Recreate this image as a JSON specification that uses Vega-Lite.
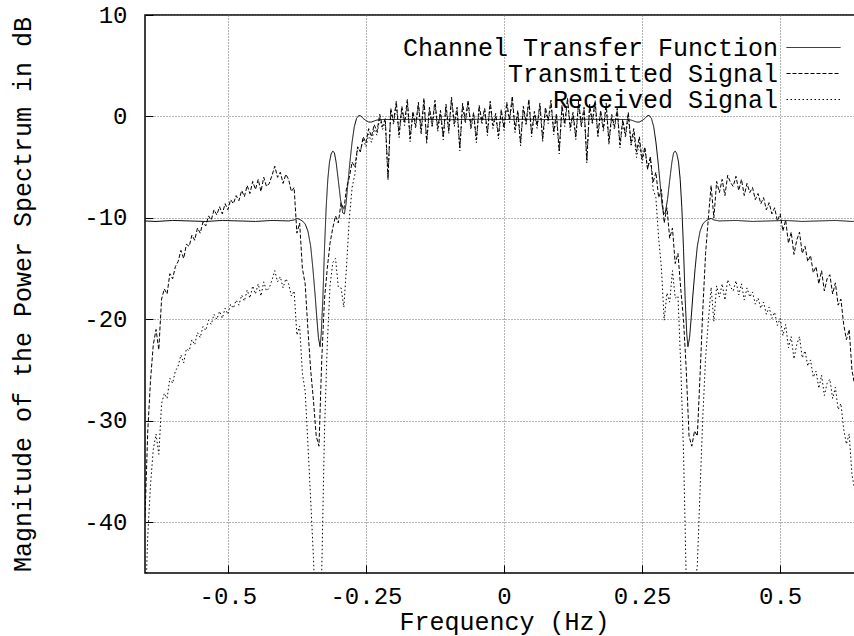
{
"$schema": "https://vega.github.io/schema/vega-lite/v6.json",
"width": 718, "height": 558,
"autosize": "none",
"padding": {"left": 145, "top": 15, "right": 0, "bottom": 63},
"background": "white",
"config": {
 "view": {"stroke": "black", "strokeWidth": 1.5},
 "axis": {"labelFont": "Liberation Mono", "titleFont": "Liberation Mono", "labelFontSize": 24, "titleFontSize": 25, "titleFontWeight": "normal", "labelColor": "black", "titleColor": "black", "gridColor": "#666", "gridDash": [1, 2], "gridOpacity": 1, "gridWidth": 1, "domain": false, "ticks": true, "tickSize": -8, "tickColor": "black", "tickWidth": 1}
},
"datasets": {
"chan": [
{"f":-0.65,"Channel Transfer Function":-10.3},{"f":-0.63,"Channel Transfer Function":-10.35},{"f":-0.6,"Channel Transfer Function":-10.25},{"f":-0.57,"Channel Transfer Function":-10.3},{"f":-0.54,"Channel Transfer Function":-10.35},{"f":-0.51,"Channel Transfer Function":-10.25},{"f":-0.48,"Channel Transfer Function":-10.3},{"f":-0.45,"Channel Transfer Function":-10.35},{"f":-0.42,"Channel Transfer Function":-10.25},{"f":-0.39,"Channel Transfer Function":-10.3},{"f":-0.38,"Channel Transfer Function":-10.2},{"f":-0.375,"Channel Transfer Function":-10.05},{"f":-0.37,"Channel Transfer Function":-10.15},{"f":-0.365,"Channel Transfer Function":-10.3},{"f":-0.36,"Channel Transfer Function":-10.6},{"f":-0.355,"Channel Transfer Function":-11.3},{"f":-0.35,"Channel Transfer Function":-12.8},{"f":-0.346,"Channel Transfer Function":-15.0},{"f":-0.342,"Channel Transfer Function":-17.6},{"f":-0.339,"Channel Transfer Function":-19.8},{"f":-0.336,"Channel Transfer Function":-21.8},{"f":-0.333,"Channel Transfer Function":-22.7},{"f":-0.331,"Channel Transfer Function":-21.5},{"f":-0.328,"Channel Transfer Function":-18},{"f":-0.325,"Channel Transfer Function":-13},{"f":-0.322,"Channel Transfer Function":-9},{"f":-0.319,"Channel Transfer Function":-6.2},{"f":-0.316,"Channel Transfer Function":-4.5},{"f":-0.313,"Channel Transfer Function":-3.7},{"f":-0.31,"Channel Transfer Function":-3.4},{"f":-0.307,"Channel Transfer Function":-3.6},{"f":-0.304,"Channel Transfer Function":-4.5},{"f":-0.3,"Channel Transfer Function":-6.3},{"f":-0.296,"Channel Transfer Function":-8.2},{"f":-0.292,"Channel Transfer Function":-9.5},{"f":-0.289,"Channel Transfer Function":-9.6},{"f":-0.286,"Channel Transfer Function":-8.6},{"f":-0.283,"Channel Transfer Function":-6.8},{"f":-0.279,"Channel Transfer Function":-4.5},{"f":-0.275,"Channel Transfer Function":-2.5},{"f":-0.271,"Channel Transfer Function":-1.0},{"f":-0.267,"Channel Transfer Function":-0.2},{"f":-0.263,"Channel Transfer Function":0.1},{"f":-0.259,"Channel Transfer Function":0.05},{"f":-0.255,"Channel Transfer Function":-0.2},{"f":-0.25,"Channel Transfer Function":-0.4},{"f":-0.245,"Channel Transfer Function":-0.55},{"f":-0.24,"Channel Transfer Function":-0.55},{"f":-0.235,"Channel Transfer Function":-0.45},{"f":-0.23,"Channel Transfer Function":-0.35},{"f":-0.22,"Channel Transfer Function":-0.3},{"f":-0.2,"Channel Transfer Function":-0.3},{"f":-0.15,"Channel Transfer Function":-0.28},{"f":-0.1,"Channel Transfer Function":-0.32},{"f":-0.05,"Channel Transfer Function":-0.28},{"f":0,"Channel Transfer Function":-0.3},
{"f":0.05,"Channel Transfer Function":-0.28},{"f":0.1,"Channel Transfer Function":-0.32},{"f":0.15,"Channel Transfer Function":-0.28},{"f":0.2,"Channel Transfer Function":-0.3},{"f":0.22,"Channel Transfer Function":-0.3},{"f":0.23,"Channel Transfer Function":-0.35},{"f":0.235,"Channel Transfer Function":-0.45},{"f":0.24,"Channel Transfer Function":-0.55},{"f":0.245,"Channel Transfer Function":-0.55},{"f":0.25,"Channel Transfer Function":-0.4},{"f":0.255,"Channel Transfer Function":-0.2},{"f":0.259,"Channel Transfer Function":0.05},{"f":0.263,"Channel Transfer Function":0.1},{"f":0.267,"Channel Transfer Function":-0.2},{"f":0.271,"Channel Transfer Function":-1.0},{"f":0.275,"Channel Transfer Function":-2.5},{"f":0.279,"Channel Transfer Function":-4.5},{"f":0.283,"Channel Transfer Function":-6.8},{"f":0.286,"Channel Transfer Function":-8.6},{"f":0.289,"Channel Transfer Function":-9.6},{"f":0.292,"Channel Transfer Function":-9.5},{"f":0.296,"Channel Transfer Function":-8.2},{"f":0.3,"Channel Transfer Function":-6.3},{"f":0.304,"Channel Transfer Function":-4.5},{"f":0.307,"Channel Transfer Function":-3.6},{"f":0.31,"Channel Transfer Function":-3.4},{"f":0.313,"Channel Transfer Function":-3.7},{"f":0.316,"Channel Transfer Function":-4.5},{"f":0.319,"Channel Transfer Function":-6.2},{"f":0.322,"Channel Transfer Function":-9},{"f":0.325,"Channel Transfer Function":-13},{"f":0.328,"Channel Transfer Function":-18},{"f":0.331,"Channel Transfer Function":-21.5},{"f":0.333,"Channel Transfer Function":-22.7},{"f":0.336,"Channel Transfer Function":-21.8},{"f":0.339,"Channel Transfer Function":-19.8},{"f":0.342,"Channel Transfer Function":-17.6},{"f":0.346,"Channel Transfer Function":-15.0},{"f":0.35,"Channel Transfer Function":-12.8},{"f":0.355,"Channel Transfer Function":-11.3},{"f":0.36,"Channel Transfer Function":-10.6},{"f":0.365,"Channel Transfer Function":-10.3},{"f":0.37,"Channel Transfer Function":-10.15},{"f":0.375,"Channel Transfer Function":-10.05},{"f":0.38,"Channel Transfer Function":-10.2},{"f":0.39,"Channel Transfer Function":-10.3},{"f":0.42,"Channel Transfer Function":-10.25},{"f":0.45,"Channel Transfer Function":-10.35},{"f":0.48,"Channel Transfer Function":-10.3},{"f":0.51,"Channel Transfer Function":-10.25},{"f":0.54,"Channel Transfer Function":-10.35},{"f":0.57,"Channel Transfer Function":-10.3},{"f":0.6,"Channel Transfer Function":-10.25},{"f":0.63,"Channel Transfer Function":-10.35},{"f":0.65,"Channel Transfer Function":-10.3}
],
"sig": [
{"f":-0.65,"Transmitted Signal":-39.5,"Received Signal":-49.8},
{"f":-0.645,"Transmitted Signal":-31,"Received Signal":-41.3},
{"f":-0.64,"Transmitted Signal":-26,"Received Signal":-36.3},
{"f":-0.635,"Transmitted Signal":-22.5,"Received Signal":-32.8},
{"f":-0.63,"Transmitted Signal":-21,"Received Signal":-31.3},
{"f":-0.625,"Transmitted Signal":-23,"Received Signal":-33.3},
{"f":-0.62,"Transmitted Signal":-18,"Received Signal":-28.3},
{"f":-0.615,"Transmitted Signal":-17,"Received Signal":-27.3},
{"f":-0.61,"Transmitted Signal":-17.5,"Received Signal":-27.8},
{"f":-0.605,"Transmitted Signal":-15.5,"Received Signal":-25.8},
{"f":-0.6,"Transmitted Signal":-16,"Received Signal":-26.3},
{"f":-0.595,"Transmitted Signal":-14.8,"Received Signal":-25.1},
{"f":-0.59,"Transmitted Signal":-14.3,"Received Signal":-24.6},
{"f":-0.585,"Transmitted Signal":-13.2,"Received Signal":-23.5},
{"f":-0.58,"Transmitted Signal":-14,"Received Signal":-24.3},
{"f":-0.575,"Transmitted Signal":-12.6,"Received Signal":-22.9},
{"f":-0.57,"Transmitted Signal":-12.8,"Received Signal":-23.1},
{"f":-0.565,"Transmitted Signal":-11.7,"Received Signal":-22.0},
{"f":-0.56,"Transmitted Signal":-12.2,"Received Signal":-22.5},
{"f":-0.555,"Transmitted Signal":-11.0,"Received Signal":-21.3},
{"f":-0.55,"Transmitted Signal":-11.5,"Received Signal":-21.8},
{"f":-0.545,"Transmitted Signal":-10.4,"Received Signal":-20.7},
{"f":-0.54,"Transmitted Signal":-10.8,"Received Signal":-21.1},
{"f":-0.535,"Transmitted Signal":-9.8,"Received Signal":-20.1},
{"f":-0.53,"Transmitted Signal":-10.2,"Received Signal":-20.5},
{"f":-0.525,"Transmitted Signal":-9.2,"Received Signal":-19.5},
{"f":-0.52,"Transmitted Signal":-9.7,"Received Signal":-20.0},
{"f":-0.515,"Transmitted Signal":-8.9,"Received Signal":-19.2},
{"f":-0.51,"Transmitted Signal":-9.6,"Received Signal":-19.9},
{"f":-0.505,"Transmitted Signal":-8.6,"Received Signal":-18.9},
{"f":-0.5,"Transmitted Signal":-9.2,"Received Signal":-19.5},
{"f":-0.495,"Transmitted Signal":-8.2,"Received Signal":-18.5},
{"f":-0.49,"Transmitted Signal":-8.6,"Received Signal":-18.9},
{"f":-0.485,"Transmitted Signal":-7.8,"Received Signal":-18.1},
{"f":-0.48,"Transmitted Signal":-8.3,"Received Signal":-18.6},
{"f":-0.475,"Transmitted Signal":-7.3,"Received Signal":-17.6},
{"f":-0.47,"Transmitted Signal":-7.9,"Received Signal":-18.2},
{"f":-0.465,"Transmitted Signal":-6.8,"Received Signal":-17.1},
{"f":-0.46,"Transmitted Signal":-7.6,"Received Signal":-17.9},
{"f":-0.455,"Transmitted Signal":-6.4,"Received Signal":-16.7},
{"f":-0.45,"Transmitted Signal":-7.2,"Received Signal":-17.5},
{"f":-0.445,"Transmitted Signal":-6.2,"Received Signal":-16.5},
{"f":-0.44,"Transmitted Signal":-7.4,"Received Signal":-17.7},
{"f":-0.435,"Transmitted Signal":-6.0,"Received Signal":-16.3},
{"f":-0.43,"Transmitted Signal":-6.9,"Received Signal":-17.2},
{"f":-0.425,"Transmitted Signal":-6.6,"Received Signal":-16.9},
{"f":-0.42,"Transmitted Signal":-5.8,"Received Signal":-16.1},
{"f":-0.415,"Transmitted Signal":-4.9,"Received Signal":-15.2},
{"f":-0.41,"Transmitted Signal":-6.0,"Received Signal":-16.3},
{"f":-0.405,"Transmitted Signal":-5.5,"Received Signal":-15.8},
{"f":-0.4,"Transmitted Signal":-6.6,"Received Signal":-16.9},
{"f":-0.395,"Transmitted Signal":-5.7,"Received Signal":-16.0},
{"f":-0.39,"Transmitted Signal":-6.2,"Received Signal":-16.5},
{"f":-0.385,"Transmitted Signal":-7.4,"Received Signal":-17.7},
{"f":-0.38,"Transmitted Signal":-7.0,"Received Signal":-17.2},
{"f":-0.375,"Transmitted Signal":-11.5,"Received Signal":-21.55},
{"f":-0.37,"Transmitted Signal":-10.5,"Received Signal":-20.65},
{"f":-0.365,"Transmitted Signal":-15.0,"Received Signal":-25.3},
{"f":-0.36,"Transmitted Signal":-16.5,"Received Signal":-27.1},
{"f":-0.355,"Transmitted Signal":-21,"Received Signal":-32.3},
{"f":-0.35,"Transmitted Signal":-25,"Received Signal":-37.8},
{"f":-0.345,"Transmitted Signal":-28,"Received Signal":-43.5},
{"f":-0.34,"Transmitted Signal":-31.5,"Received Signal":-50.5},
{"f":-0.335,"Transmitted Signal":-32.5,"Received Signal":-54.9},
{"f":-0.33,"Transmitted Signal":-24,"Received Signal":-44.8},
{"f":-0.325,"Transmitted Signal":-18,"Received Signal":-31},
{"f":-0.32,"Transmitted Signal":-15,"Received Signal":-22.5},
{"f":-0.315,"Transmitted Signal":-12.5,"Received Signal":-16.7},
{"f":-0.31,"Transmitted Signal":-11.0,"Received Signal":-14.4},
{"f":-0.305,"Transmitted Signal":-9.8,"Received Signal":-14.0},
{"f":-0.3,"Transmitted Signal":-10.5,"Received Signal":-16.8},
{"f":-0.295,"Transmitted Signal":-8.5,"Received Signal":-16.9},
{"f":-0.29,"Transmitted Signal":-9.2,"Received Signal":-18.8},
{"f":-0.285,"Transmitted Signal":-7.0,"Received Signal":-14.7},
{"f":-0.28,"Transmitted Signal":-6.0,"Received Signal":-10.0},
{"f":-0.275,"Transmitted Signal":-4.5,"Received Signal":-7.0},
{"f":-0.27,"Transmitted Signal":-5.0,"Received Signal":-5.7},
{"f":-0.265,"Transmitted Signal":-3.0,"Received Signal":-3.0},
{"f":-0.26,"Transmitted Signal":-3.5,"Received Signal":-3.45},
{"f":-0.255,"Transmitted Signal":-2.0,"Received Signal":-2.2},
{"f":-0.25,"Transmitted Signal":-2.6,"Received Signal":-3.0},
{"f":-0.245,"Transmitted Signal":-1.2,"Received Signal":-1.75},
{"f":-0.24,"Transmitted Signal":-2.0,"Received Signal":-2.55},
{"f":-0.235,"Transmitted Signal":-0.8,"Received Signal":-1.25},
{"f":-0.23,"Transmitted Signal":-1.5,"Received Signal":-1.85},
{"f":-0.225,"Transmitted Signal":0.2,"Received Signal":-0.1},
{"f":-0.22,"Transmitted Signal":-1.0,"Received Signal":-1.3},
{"f":-0.215,"Transmitted Signal":-0.2,"Received Signal":-0.5},
{"f":-0.21,"Transmitted Signal":-6.0,"Received Signal":-6.3},
{"f":-0.205,"Transmitted Signal":0.8,"Received Signal":0.5},
{"f":-0.2,"Transmitted Signal":-0.5,"Received Signal":-0.8},
{"f":-0.195,"Transmitted Signal":1.5,"Received Signal":1.2},
{"f":-0.19,"Transmitted Signal":-1.8,"Received Signal":-2.1},
{"f":-0.185,"Transmitted Signal":1.0,"Received Signal":0.7},
{"f":-0.18,"Transmitted Signal":-0.6,"Received Signal":-0.9},
{"f":-0.175,"Transmitted Signal":1.7,"Received Signal":1.4},
{"f":-0.17,"Transmitted Signal":-2.2,"Received Signal":-2.5},
{"f":-0.165,"Transmitted Signal":0.5,"Received Signal":0.2},
{"f":-0.16,"Transmitted Signal":-0.9,"Received Signal":-1.2},
{"f":-0.155,"Transmitted Signal":1.4,"Received Signal":1.1},
{"f":-0.15,"Transmitted Signal":-1.5,"Received Signal":-1.8},
{"f":-0.145,"Transmitted Signal":1.8,"Received Signal":1.5},
{"f":-0.14,"Transmitted Signal":-2.4,"Received Signal":-2.7},
{"f":-0.135,"Transmitted Signal":0.9,"Received Signal":0.6},
{"f":-0.13,"Transmitted Signal":-0.8,"Received Signal":-1.1},
{"f":-0.125,"Transmitted Signal":1.6,"Received Signal":1.3},
{"f":-0.12,"Transmitted Signal":-1.2,"Received Signal":-1.5},
{"f":-0.115,"Transmitted Signal":0.6,"Received Signal":0.3},
{"f":-0.11,"Transmitted Signal":-2.0,"Received Signal":-2.3},
{"f":-0.105,"Transmitted Signal":1.2,"Received Signal":0.9},
{"f":-0.1,"Transmitted Signal":-1.4,"Received Signal":-1.7},
{"f":-0.095,"Transmitted Signal":1.9,"Received Signal":1.6},
{"f":-0.09,"Transmitted Signal":-0.7,"Received Signal":-1.0},
{"f":-0.085,"Transmitted Signal":0.9,"Received Signal":0.6},
{"f":-0.08,"Transmitted Signal":-3.1,"Received Signal":-3.4},
{"f":-0.075,"Transmitted Signal":1.3,"Received Signal":1.0},
{"f":-0.07,"Transmitted Signal":-0.4,"Received Signal":-0.7},
{"f":-0.065,"Transmitted Signal":1.6,"Received Signal":1.3},
{"f":-0.06,"Transmitted Signal":-1.0,"Received Signal":-1.3},
{"f":-0.055,"Transmitted Signal":0.4,"Received Signal":0.1},
{"f":-0.05,"Transmitted Signal":-2.3,"Received Signal":-2.6},
{"f":-0.045,"Transmitted Signal":1.1,"Received Signal":0.8},
{"f":-0.04,"Transmitted Signal":-0.5,"Received Signal":-0.8},
{"f":-0.035,"Transmitted Signal":0.8,"Received Signal":0.5},
{"f":-0.03,"Transmitted Signal":-1.6,"Received Signal":-1.9},
{"f":-0.025,"Transmitted Signal":1.5,"Received Signal":1.2},
{"f":-0.02,"Transmitted Signal":-0.9,"Received Signal":-1.2},
{"f":-0.015,"Transmitted Signal":0.3,"Received Signal":0.0},
{"f":-0.01,"Transmitted Signal":-1.9,"Received Signal":-2.2},
{"f":-0.005,"Transmitted Signal":0.7,"Received Signal":0.4},
{"f":0,"Transmitted Signal":-1.1,"Received Signal":-1.4},
{"f":0.005,"Transmitted Signal":1.4,"Received Signal":1.1},
{"f":0.01,"Transmitted Signal":-0.3,"Received Signal":-0.6},
{"f":0.015,"Transmitted Signal":2.0,"Received Signal":1.7},
{"f":0.02,"Transmitted Signal":-1.3,"Received Signal":-1.6},
{"f":0.025,"Transmitted Signal":0.6,"Received Signal":0.3},
{"f":0.03,"Transmitted Signal":-2.6,"Received Signal":-2.9},
{"f":0.035,"Transmitted Signal":1.0,"Received Signal":0.7},
{"f":0.04,"Transmitted Signal":-0.6,"Received Signal":-0.9},
{"f":0.045,"Transmitted Signal":1.7,"Received Signal":1.4},
{"f":0.05,"Transmitted Signal":-1.7,"Received Signal":-2.0},
{"f":0.055,"Transmitted Signal":0.5,"Received Signal":0.2},
{"f":0.06,"Transmitted Signal":-0.9,"Received Signal":-1.2},
{"f":0.065,"Transmitted Signal":1.3,"Received Signal":1.0},
{"f":0.07,"Transmitted Signal":-2.2,"Received Signal":-2.5},
{"f":0.075,"Transmitted Signal":0.9,"Received Signal":0.6},
{"f":0.08,"Transmitted Signal":-0.4,"Received Signal":-0.7},
{"f":0.085,"Transmitted Signal":1.6,"Received Signal":1.3},
{"f":0.09,"Transmitted Signal":-1.5,"Received Signal":-1.8},
{"f":0.095,"Transmitted Signal":0.3,"Received Signal":0.0},
{"f":0.1,"Transmitted Signal":-3.4,"Received Signal":-3.7},
{"f":0.105,"Transmitted Signal":1.1,"Received Signal":0.8},
{"f":0.11,"Transmitted Signal":-0.7,"Received Signal":-1.0},
{"f":0.115,"Transmitted Signal":1.8,"Received Signal":1.5},
{"f":0.12,"Transmitted Signal":-1.1,"Received Signal":-1.4},
{"f":0.125,"Transmitted Signal":0.4,"Received Signal":0.1},
{"f":0.13,"Transmitted Signal":-2.0,"Received Signal":-2.3},
{"f":0.135,"Transmitted Signal":1.5,"Received Signal":1.2},
{"f":0.14,"Transmitted Signal":-0.8,"Received Signal":-1.1},
{"f":0.145,"Transmitted Signal":0.9,"Received Signal":0.6},
{"f":0.15,"Transmitted Signal":-4.3,"Received Signal":-4.6},
{"f":0.155,"Transmitted Signal":1.2,"Received Signal":0.9},
{"f":0.16,"Transmitted Signal":-0.5,"Received Signal":-0.8},
{"f":0.165,"Transmitted Signal":1.6,"Received Signal":1.3},
{"f":0.17,"Transmitted Signal":-1.8,"Received Signal":-2.1},
{"f":0.175,"Transmitted Signal":0.6,"Received Signal":0.3},
{"f":0.18,"Transmitted Signal":-1.2,"Received Signal":-1.5},
{"f":0.185,"Transmitted Signal":1.3,"Received Signal":1.0},
{"f":0.19,"Transmitted Signal":-2.5,"Received Signal":-2.8},
{"f":0.195,"Transmitted Signal":0.2,"Received Signal":-0.1},
{"f":0.2,"Transmitted Signal":-1.0,"Received Signal":-1.3},
{"f":0.205,"Transmitted Signal":0.8,"Received Signal":0.5},
{"f":0.21,"Transmitted Signal":-2.8,"Received Signal":-3.1},
{"f":0.215,"Transmitted Signal":-0.3,"Received Signal":-0.6},
{"f":0.22,"Transmitted Signal":-1.8,"Received Signal":-2.1},
{"f":0.225,"Transmitted Signal":0.4,"Received Signal":0.05},
{"f":0.23,"Transmitted Signal":-2.6,"Received Signal":-2.95},
{"f":0.235,"Transmitted Signal":-1.2,"Received Signal":-1.65},
{"f":0.24,"Transmitted Signal":-3.5,"Received Signal":-4.05},
{"f":0.245,"Transmitted Signal":-2.0,"Received Signal":-2.55},
{"f":0.25,"Transmitted Signal":-4.2,"Received Signal":-4.6},
{"f":0.255,"Transmitted Signal":-3.0,"Received Signal":-3.2},
{"f":0.26,"Transmitted Signal":-5.2,"Received Signal":-5.15},
{"f":0.265,"Transmitted Signal":-4.0,"Received Signal":-4.0},
{"f":0.27,"Transmitted Signal":-6.5,"Received Signal":-7.2},
{"f":0.275,"Transmitted Signal":-5.5,"Received Signal":-8.0},
{"f":0.28,"Transmitted Signal":-8.0,"Received Signal":-12.0},
{"f":0.285,"Transmitted Signal":-7.2,"Received Signal":-14.9},
{"f":0.29,"Transmitted Signal":-10.5,"Received Signal":-20.1},
{"f":0.295,"Transmitted Signal":-9.0,"Received Signal":-17.4},
{"f":0.3,"Transmitted Signal":-12.0,"Received Signal":-18.3},
{"f":0.305,"Transmitted Signal":-11.0,"Received Signal":-15.2},
{"f":0.31,"Transmitted Signal":-14.5,"Received Signal":-17.9},
{"f":0.315,"Transmitted Signal":-13.5,"Received Signal":-17.7},
{"f":0.32,"Transmitted Signal":-17.0,"Received Signal":-24.5},
{"f":0.325,"Transmitted Signal":-20.0,"Received Signal":-33.0},
{"f":0.33,"Transmitted Signal":-25.0,"Received Signal":-45.8},
{"f":0.335,"Transmitted Signal":-31.5,"Received Signal":-53.9},
{"f":0.34,"Transmitted Signal":-32.5,"Received Signal":-51.5},
{"f":0.345,"Transmitted Signal":-31.0,"Received Signal":-46.5},
{"f":0.35,"Transmitted Signal":-31.5,"Received Signal":-44.3},
{"f":0.355,"Transmitted Signal":-25.5,"Received Signal":-36.8},
{"f":0.36,"Transmitted Signal":-19.0,"Received Signal":-29.6},
{"f":0.365,"Transmitted Signal":-13.5,"Received Signal":-23.8},
{"f":0.37,"Transmitted Signal":-10.0,"Received Signal":-20.15},
{"f":0.375,"Transmitted Signal":-6.8,"Received Signal":-16.85},
{"f":0.38,"Transmitted Signal":-10.0,"Received Signal":-20.2},
{"f":0.385,"Transmitted Signal":-6.4,"Received Signal":-16.7},
{"f":0.39,"Transmitted Signal":-7.5,"Received Signal":-17.8},
{"f":0.395,"Transmitted Signal":-6.2,"Received Signal":-16.5},
{"f":0.4,"Transmitted Signal":-7.8,"Received Signal":-18.1},
{"f":0.405,"Transmitted Signal":-5.8,"Received Signal":-16.1},
{"f":0.41,"Transmitted Signal":-6.5,"Received Signal":-16.8},
{"f":0.415,"Transmitted Signal":-6.9,"Received Signal":-17.2},
{"f":0.42,"Transmitted Signal":-5.9,"Received Signal":-16.2},
{"f":0.425,"Transmitted Signal":-7.3,"Received Signal":-17.6},
{"f":0.43,"Transmitted Signal":-6.2,"Received Signal":-16.5},
{"f":0.435,"Transmitted Signal":-7.8,"Received Signal":-18.1},
{"f":0.44,"Transmitted Signal":-6.6,"Received Signal":-16.9},
{"f":0.445,"Transmitted Signal":-7.5,"Received Signal":-17.8},
{"f":0.45,"Transmitted Signal":-7.0,"Received Signal":-17.3},
{"f":0.455,"Transmitted Signal":-8.2,"Received Signal":-18.5},
{"f":0.46,"Transmitted Signal":-7.6,"Received Signal":-17.9},
{"f":0.465,"Transmitted Signal":-8.6,"Received Signal":-18.9},
{"f":0.47,"Transmitted Signal":-8.0,"Received Signal":-18.3},
{"f":0.475,"Transmitted Signal":-9.2,"Received Signal":-19.5},
{"f":0.48,"Transmitted Signal":-8.5,"Received Signal":-18.8},
{"f":0.485,"Transmitted Signal":-9.6,"Received Signal":-19.9},
{"f":0.49,"Transmitted Signal":-9.0,"Received Signal":-19.3},
{"f":0.495,"Transmitted Signal":-10.3,"Received Signal":-20.6},
{"f":0.5,"Transmitted Signal":-9.6,"Received Signal":-19.9},
{"f":0.505,"Transmitted Signal":-11.3,"Received Signal":-21.6},
{"f":0.51,"Transmitted Signal":-10.2,"Received Signal":-20.5},
{"f":0.515,"Transmitted Signal":-12.5,"Received Signal":-22.8},
{"f":0.52,"Transmitted Signal":-11.4,"Received Signal":-21.7},
{"f":0.525,"Transmitted Signal":-13.6,"Received Signal":-23.9},
{"f":0.53,"Transmitted Signal":-12.2,"Received Signal":-22.5},
{"f":0.535,"Transmitted Signal":-11.4,"Received Signal":-21.7},
{"f":0.54,"Transmitted Signal":-13.5,"Received Signal":-23.8},
{"f":0.545,"Transmitted Signal":-12.8,"Received Signal":-23.1},
{"f":0.55,"Transmitted Signal":-14.3,"Received Signal":-24.6},
{"f":0.555,"Transmitted Signal":-13.7,"Received Signal":-24.0},
{"f":0.56,"Transmitted Signal":-15.4,"Received Signal":-25.7},
{"f":0.565,"Transmitted Signal":-14.8,"Received Signal":-25.1},
{"f":0.57,"Transmitted Signal":-16.5,"Received Signal":-26.8},
{"f":0.575,"Transmitted Signal":-15.2,"Received Signal":-25.5},
{"f":0.58,"Transmitted Signal":-17.2,"Received Signal":-27.5},
{"f":0.585,"Transmitted Signal":-16.0,"Received Signal":-26.3},
{"f":0.59,"Transmitted Signal":-15.6,"Received Signal":-25.9},
{"f":0.595,"Transmitted Signal":-17.5,"Received Signal":-27.8},
{"f":0.6,"Transmitted Signal":-16.4,"Received Signal":-26.7},
{"f":0.605,"Transmitted Signal":-18.6,"Received Signal":-28.9},
{"f":0.61,"Transmitted Signal":-18.0,"Received Signal":-28.3},
{"f":0.615,"Transmitted Signal":-20.5,"Received Signal":-30.8},
{"f":0.62,"Transmitted Signal":-22.0,"Received Signal":-32.3},
{"f":0.625,"Transmitted Signal":-21.0,"Received Signal":-31.3},
{"f":0.63,"Transmitted Signal":-25.0,"Received Signal":-35.3},
{"f":0.635,"Transmitted Signal":-26.5,"Received Signal":-36.8},
{"f":0.64,"Transmitted Signal":-27.5,"Received Signal":-37.8},
{"f":0.645,"Transmitted Signal":-29,"Received Signal":-39.3},
{"f":0.65,"Transmitted Signal":-30,"Received Signal":-40.3}
]
},
"encoding": {
 "x": {"field": "f", "type": "quantitative", "scale": {"domain": [-0.65, 0.65], "nice": false, "zero": false},
  "axis": {"title": "Frequency (Hz)", "values": [-0.5, -0.25, 0, 0.25, 0.5], "labelExpr": "'' + datum.value", "labelBaseline": "alphabetic", "labelPadding": 38, "labelFlush": false, "labelOverlap": false, "titleY": 56, "titleBaseline": "alphabetic", "titleX": 359}},
 "y": {"field": "db", "type": "quantitative", "scale": {"domain": [-45, 10], "nice": false, "zero": false},
  "axis": {"title": "Magnitude of the Power Spectrum in dB", "values": [-40, -30, -20, -10, 0, 10], "labelExpr": "'' + datum.value", "labelPadding": 26, "labelFlush": false, "labelOverlap": false, "titleAngle": 270, "titleX": -115, "titleY": 279, "titleBaseline": "alphabetic", "titleAlign": "center"}},
 "strokeDash": {"field": "series", "type": "nominal",
  "scale": {"domain": ["Channel Transfer Function", "Transmitted Signal", "Received Signal"], "range": [[1, 0], [4, 2], [1.5, 2.5]]},
  "legend": {"orient": "none", "legendX": 656, "legendY": 20, "title": null, "symbolType": "M-3,0H3", "symbolSize": 324, "symbolStrokeWidth": 1, "symbolStrokeColor": "black", "symbolFillColor": "transparent", "labelAlign": "right", "labelOffset": -48, "labelFont": "Liberation Mono", "labelFontSize": 25, "labelColor": "black", "labelLimit": 600, "rowPadding": -1.5}}
},
"layer": [
 {"data": {"name": "chan"}, "transform": [{"fold": ["Channel Transfer Function"], "as": ["series", "db"]}],
  "mark": {"type": "line", "clip": true, "color": "black", "strokeWidth": 1}},
 {"data": {"name": "sig"}, "transform": [{"fold": ["Transmitted Signal", "Received Signal"], "as": ["series", "db"]}],
  "mark": {"type": "line", "clip": true, "color": "black", "strokeWidth": 1}}
]
}
